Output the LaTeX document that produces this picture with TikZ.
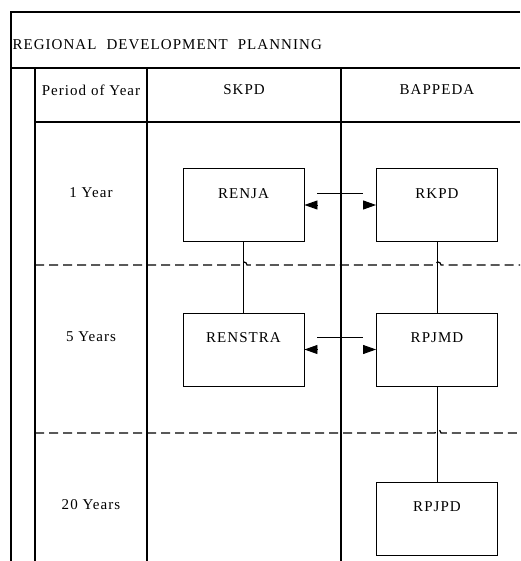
\documentclass[tikz,border=0pt]{standalone}
\usepackage{fontspec}
\setmainfont{Liberation Serif}[LetterSpace=7]
\usetikzlibrary{arrows.meta}

\begin{document}
\begin{tikzpicture}
		[x=1pt,y=1pt,
		frame/.style ={line width=1.8pt},
		lane/.style ={line width=1.2pt, dash pattern=on 9pt off 5pt},
		doc/.style ={rectangle, draw=black, line width=0.9pt, fill=white, minimum width=121pt, minimum height=73pt, text height=10pt, text depth=24pt, font=\fontsize{15}{18}\selectfont},
		link/.style ={draw, line width=0.9pt},
		tip/.style ={-{Triangle[length=13pt,width=9pt]}, line width=0.9pt},
		txt/.style ={font=\fontsize{15}{18}\selectfont},
		]
		\useasboundingbox (0,0) rectangle (520,-561);

		% frame and lanes
		\draw[frame] (520,-12) -- (11,-12) -- (11,-561);
		\draw[frame] (11,-68) -- (520,-68);
		\draw[frame] (35,-122) -- (520,-122);
		\draw[frame] (35,-68) -- (35,-561);
		\draw[frame] (147,-68) -- (147,-561);
		\draw[frame] (341,-68) -- (341,-561);

		\draw[lane] (35,-265) -- (241,-265) arc[start angle=180,end angle=0,radius=3] -- (435,-265) arc[start angle=180,end angle=0,radius=3] -- (520,-265);
		\draw[lane] (35,-433) -- (435,-433) arc[start angle=180,end angle=0,radius=3] -- (520,-433);

		\draw (9,-45) node[txt, anchor=west] (title) {REGIONAL\hspace{10pt}DEVELOPMENT\hspace{10pt}PLANNING};
		\draw (91,-90) node[txt] (period) {Period of Year};
		\draw (244,-90) node[txt] (skpd) {SKPD};
		\draw (437,-90) node[txt] (bappeda) {BAPPEDA};
		\draw (91,-193) node[txt] (one) {1 Year};
		\draw (91,-337) node[txt] (five) {5 Years};
		\draw (91,-505) node[txt] (twenty) {20 Years};

		% documents
		\draw (243.5,-205) node[doc] (renja) {RENJA};
		\draw (437,-205) node[doc] (rkpd) {RKPD};
		\draw (243.5,-349.5) node[doc] (renstra) {RENSTRA};
		\draw (437,-349.5) node[doc] (rpjmd) {RPJMD};
		\draw (437,-518.5) node[doc] (rpjpd) {RPJPD};

		\path[link]
		(renja) -- (renstra)
		(rkpd) -- (rpjmd)
		(rpjmd) -- (rpjpd);

		\draw[link] ([shift={(13,12)}]renja.east) -- ([shift={(-13,12)}]rkpd.west);
		\draw[link] ([shift={(13,12)}]renstra.east) -- ([shift={(-13,12)}]rpjmd.west);
		\draw[tip] ([xshift=13pt]renja.east) -- (renja.east);
		\draw[tip] ([xshift=-13pt]rkpd.west) -- (rkpd.west);
		\draw[tip] ([xshift=13pt]renstra.east) -- (renstra.east);
		\draw[tip] ([xshift=-13pt]rpjmd.west) -- (rpjmd.west);

	\end{tikzpicture}
\end{document}
